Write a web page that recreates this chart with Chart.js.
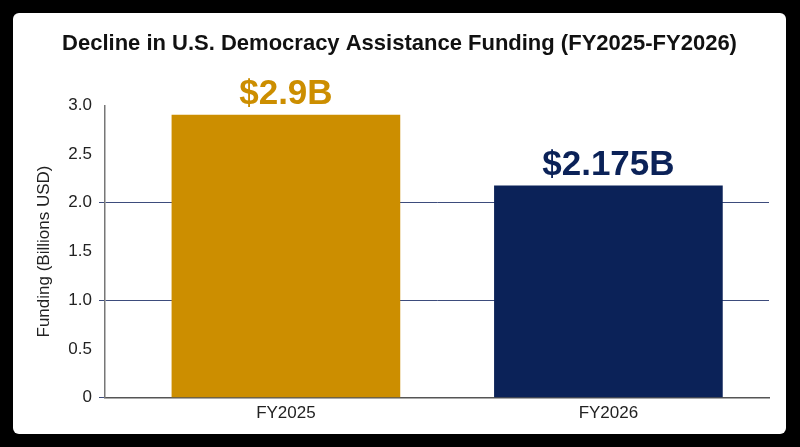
<!DOCTYPE html>
<html>
<head>
<meta charset="utf-8">
<script src="https://cdn.jsdelivr.net/npm/chart.js@4"></script>
<style>
  html, body { margin: 0; padding: 0; background: #000; }
  body { width: 800px; height: 447px; position: relative; overflow: hidden; }
  #panel {
    position: absolute; left: 13px; top: 13px; width: 773px; height: 421px;
    background: #fff; border-radius: 6px; overflow: hidden;
  }
  #myChart { display: block; }
</style>
</head>
<body>
<div id="panel"><canvas id="myChart" width="773" height="421"></canvas></div>
<script>
// data
const categories = ["FY2025", "FY2026"];
const funding = [2.9, 2.175];
const valueLabels = ["$2.9B", "$2.175B"];
const barColors = ["#cc8e00", "#0b2258"];

const gridNavy = "#3d4c7c";

// labels above bars
const barLabels = {
  id: "barLabels",
  afterDatasetsDraw(chart) {
    const { ctx } = chart;
    const meta = chart.getDatasetMeta(0);
    ctx.save();
    ctx.font = "bold 35px 'Liberation Sans', Arial, sans-serif";
    ctx.textAlign = "center";
    ctx.textBaseline = "alphabetic";
    meta.data.forEach((bar, i) => {
      ctx.fillStyle = barColors[i];
      ctx.fillText(valueLabels[i], bar.x, bar.y - 11);
    });
    ctx.restore();
  }
};

const ctx = document.getElementById("myChart");

new Chart(ctx, {
  type: "bar",
  data: {
    datasets: [{
      data: funding.map((v, i) => ({ x: i, y: v })),
      backgroundColor: barColors,
      borderWidth: 0,
      barThickness: 228
    }]
  },
  options: {
    responsive: false,
    animation: false,
    layout: { padding: { left: 17, right: 17, top: 0, bottom: 4 } },
    plugins: {
      legend: { display: false },
      tooltip: { enabled: false },
      title: {
        display: true,
        text: "Decline in U.S. Democracy Assistance Funding (FY2025-FY2026)",
        color: "#111",
        font: { family: "'Liberation Sans', Arial, sans-serif", size: 22, weight: "bold" },
        padding: { top: 18, bottom: 48 }
      }
    },
    scales: {
      x: {
        type: "linear",
        offset: false,
        min: -0.561,
        max: 1.498,
        grid: { display: false, drawTicks: false },
        border: { display: true, color: "#555", width: 1.5 },
        afterBuildTicks: (axis) => { axis.ticks = categories.map((c, i) => ({ value: i })); },
        ticks: {
          padding: 6,
          color: "#222",
          font: { family: "'Liberation Sans', Arial, sans-serif", size: 17 },
          callback: (v) => categories[v]
        }
      },
      y: {
        min: 0,
        max: 3,
        afterFit: (axis) => { axis.width = 75; },
        ticks: {
          stepSize: 0.5,
          padding: 7,
          color: "#222",
          font: { family: "'Liberation Sans', Arial, sans-serif", size: 17 },
          callback: (v) => (v === 0 ? "0" : v.toFixed(1))
        },
        grid: {
          tickLength: 6,
          lineWidth: 1,
          color: (c) => (c.tick && (c.tick.value === 1 || c.tick.value === 2 || c.tick.value === 0) ? gridNavy : "rgba(0,0,0,0)")
        },
        border: { display: true, color: "#777", width: 1.5 },
        title: {
          display: true,
          text: "Funding (Billions USD)",
          color: "#222",
          font: { family: "'Liberation Sans', Arial, sans-serif", size: 17 },
          padding: { top: 4, bottom: 0 }
        }
      }
    }
  },
  plugins: [barLabels]
});
</script>
</body>
</html>
